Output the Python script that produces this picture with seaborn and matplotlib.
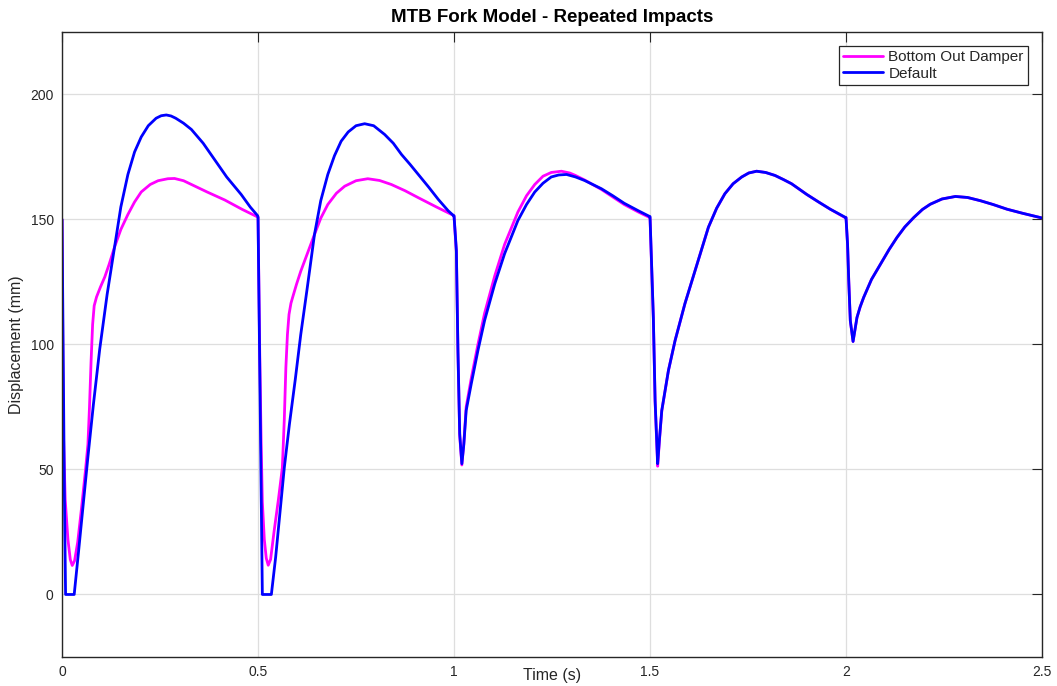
import matplotlib
matplotlib.use("Agg")

import numpy as np
import pandas as pd
import matplotlib.pyplot as plt
import seaborn as sns


# ----------------------------------------------------------------------------
# data (time in s, displacement in mm)
# ----------------------------------------------------------------------------

time_default = [
    0.000, 0.003, 0.006, 0.009, 0.031, 0.042, 0.054, 0.066, 0.080, 0.096,
    0.115, 0.134, 0.150, 0.168, 0.185, 0.202, 0.220, 0.240, 0.253, 0.266,
    0.278, 0.290, 0.310, 0.330, 0.360, 0.389, 0.420, 0.457, 0.480, 0.499,
    0.500, 0.504, 0.508, 0.511, 0.534, 0.545, 0.556, 0.567, 0.580, 0.595,
    0.609, 0.625, 0.644, 0.660, 0.678, 0.695, 0.712, 0.730, 0.750, 0.772,
    0.795, 0.823, 0.845, 0.866, 0.888, 0.909, 0.935, 0.960, 0.985, 0.999,
    1.000, 1.006, 1.010, 1.0145, 1.020, 1.025, 1.031, 1.044, 1.061, 1.078,
    1.104, 1.129, 1.163, 1.185, 1.206, 1.227, 1.248, 1.267, 1.287, 1.310,
    1.333, 1.376, 1.405, 1.434, 1.470, 1.499,
    1.500, 1.5085, 1.513, 1.5195, 1.524, 1.530, 1.547, 1.564, 1.589, 1.615,
    1.649, 1.670, 1.691, 1.712, 1.734, 1.752, 1.772, 1.795, 1.819, 1.840,
    1.861, 1.900, 1.930, 1.960, 1.999,
    2.000, 2.004, 2.007, 2.011, 2.018, 2.022, 2.028, 2.036, 2.045, 2.065,
    2.088, 2.110, 2.130, 2.150, 2.173, 2.195, 2.215, 2.245, 2.279, 2.310,
    2.343, 2.375, 2.411, 2.450, 2.500,
]
disp_default = [
    150.0, 95.0, 40.0, 0.0, 0.0, 17.0, 36.0, 55.0, 76.0, 98.0,
    120.0, 139.0, 155.0, 168.0, 177.0, 183.0, 187.5, 190.5, 191.5, 191.8,
    191.4, 190.5, 188.5, 186.0, 180.5, 174.0, 167.0, 160.0, 155.0, 151.5,
    150.8, 95.0, 40.0, 0.0, 0.0, 15.0, 33.0, 50.7, 68.0, 86.0,
    104.0, 122.0, 144.0, 157.5, 168.0, 175.5, 181.3, 185.0, 187.5, 188.3,
    187.5, 184.0, 180.5, 176.0, 172.0, 168.0, 163.0, 158.0, 153.5, 151.5,
    151.5, 137.6, 97.6, 64.3, 52.3, 60.0, 73.6, 84.3, 97.6, 109.6,
    124.3, 136.3, 149.6, 156.0, 161.0, 164.5, 167.0, 167.8, 168.0, 167.0,
    165.6, 162.3, 159.5, 156.5, 153.5, 151.2,
    151.2, 110.9, 77.6, 52.3, 62.0, 73.6, 89.6, 101.6, 116.3, 129.6,
    146.9, 154.5, 160.3, 164.3, 167.0, 168.6, 169.3, 168.8, 167.6, 166.0,
    164.3, 160.0, 157.0, 154.1, 150.8,
    150.8, 140.0, 125.5, 109.5, 101.2, 105.0, 110.8, 115.0, 118.8, 126.0,
    132.1, 138.0, 142.8, 147.0, 150.8, 154.0, 156.1, 158.2, 159.2, 158.8,
    157.5, 156.0, 154.1, 152.5, 150.6,
]

time_damper = [
    0.000, 0.003, 0.008, 0.015, 0.021, 0.026, 0.032, 0.040, 0.050, 0.060,
    0.066, 0.070, 0.074, 0.078, 0.082, 0.088, 0.098, 0.109, 0.120, 0.134,
    0.150, 0.168, 0.185, 0.202, 0.225, 0.245, 0.270, 0.287, 0.310, 0.330,
    0.370, 0.415, 0.460, 0.499,
    0.500, 0.504, 0.508, 0.511, 0.516, 0.521, 0.526, 0.532, 0.541, 0.552,
    0.562, 0.567, 0.571, 0.575, 0.579, 0.584, 0.588, 0.598, 0.609, 0.625,
    0.644, 0.660, 0.678, 0.700, 0.721, 0.750, 0.780, 0.810, 0.840, 0.875,
    0.909, 0.955, 0.999,
    1.000, 1.006, 1.010, 1.0145, 1.020, 1.025, 1.031, 1.044, 1.061, 1.078,
    1.104, 1.129, 1.163, 1.185, 1.206, 1.227, 1.248, 1.274, 1.295, 1.310,
    1.333, 1.376, 1.405, 1.434, 1.470, 1.499,
    1.500, 1.5085, 1.513, 1.5195, 1.524, 1.530, 1.547, 1.564, 1.589, 1.615,
    1.649, 1.670, 1.691, 1.712, 1.734, 1.752, 1.772, 1.795, 1.819, 1.840,
    1.861, 1.900, 1.930, 1.960, 1.999,
    2.000, 2.004, 2.007, 2.011, 2.018, 2.022, 2.028, 2.036, 2.045, 2.065,
    2.088, 2.110, 2.130, 2.150, 2.173, 2.195, 2.215, 2.245, 2.279, 2.310,
    2.343, 2.375, 2.411, 2.450, 2.500,
]
disp_damper = [
    150.0, 68.0, 38.0, 22.0, 14.0, 11.6, 13.5, 21.0, 35.0, 50.0,
    60.0, 75.0, 93.0, 108.0, 115.5, 119.0, 123.0, 127.0, 132.0, 139.0,
    146.0, 152.0, 157.0, 161.0, 164.0, 165.5, 166.3, 166.4, 165.5, 164.0,
    161.0, 157.8, 154.0, 151.0,
    151.0, 100.0, 60.0, 37.0, 22.0, 14.5, 11.7, 14.0, 25.3, 38.0,
    50.7, 70.0, 90.7, 104.0, 112.0, 116.5, 118.7, 124.0, 129.3, 136.0,
    144.0, 150.5, 156.0, 160.5, 163.3, 165.5, 166.3, 165.6, 164.0, 161.5,
    158.7, 155.0, 151.6,
    151.3, 137.0, 97.0, 63.5, 51.8, 60.5, 75.0, 86.5, 100.0, 112.5,
    127.5, 140.0, 153.0, 159.5, 164.0, 167.3, 168.8, 169.3, 168.6, 167.6,
    165.8, 162.0, 159.0, 156.0, 153.0, 150.8,
    150.8, 110.5, 77.0, 51.3, 61.5, 73.4, 89.6, 101.6, 116.3, 129.6,
    146.9, 154.5, 160.3, 164.3, 167.0, 168.6, 169.3, 168.8, 167.6, 166.0,
    164.3, 160.0, 157.0, 154.1, 150.6,
    150.8, 140.0, 125.5, 109.5, 101.2, 105.0, 110.8, 115.0, 118.8, 126.0,
    132.1, 138.0, 142.8, 147.0, 150.8, 154.0, 156.1, 158.2, 159.2, 158.8,
    157.5, 156.0, 154.1, 152.5, 150.6,
]

series_names = ["Bottom Out Damper", "Default"]
series_colors = ["#FF00FF", "#0000FF"]

x_ticks = [0, 0.5, 1, 1.5, 2, 2.5]
x_tick_labels = ["0", "0.5", "1", "1.5", "2", "2.5"]
y_ticks = [0, 50, 100, 150, 200]


# ----------------------------------------------------------------------------
# long table for seaborn
# ----------------------------------------------------------------------------

df = pd.concat([
    pd.DataFrame({"time": time_damper, "disp": disp_damper, "series": series_names[0]}),
    pd.DataFrame({"time": time_default, "disp": disp_default, "series": series_names[1]}),
], ignore_index=True)


# ----------------------------------------------------------------------------
# style
# ----------------------------------------------------------------------------

sns.set_theme(style="white")
plt.rcParams["font.family"] = ["Liberation Sans", "DejaVu Sans"]
plt.rcParams["axes.unicode_minus"] = False

fig = plt.figure(figsize=(10.57, 6.86), dpi=100)
ax = fig.add_axes([0.0587, 0.0423, 0.9271, 0.9111])

sns.lineplot(
    data=df,
    x="time",
    y="disp",
    hue="series",
    hue_order=series_names,
    palette=dict(zip(series_names, series_colors)),
    estimator=None,
    sort=False,
    linewidth=2.0,
    ax=ax,
)

ax.set_xlim(0, 2.5)
ax.set_ylim(-25, 225)
ax.set_xticks(x_ticks)
ax.set_xticklabels(x_tick_labels)
ax.set_yticks(y_ticks)

ax.grid(True, color="#dedede", linewidth=0.9)
ax.set_axisbelow(True)

for spine in ax.spines.values():
    spine.set_visible(True)
    spine.set_color("#262626")
    spine.set_linewidth(1.0)

ax.tick_params(direction="in", top=True, right=True, length=7, width=0.8,
               colors="#262626", labelsize=10, pad=6)

ax.set_title("MTB Fork Model - Repeated Impacts", fontsize=13.5,
             fontweight="bold", pad=7, color="#000000")
ax.set_xlabel("Time (s)", fontsize=11.5, color="#262626")
ax.set_ylabel("Displacement (mm)", fontsize=11.5, color="#262626")
ax.xaxis.set_label_coords(0.5, -0.017)
ax.yaxis.set_label_coords(-0.039, 0.5)

leg = ax.legend(
    loc="upper right",
    fancybox=False,
    frameon=True,
    edgecolor="#262626",
    framealpha=1,
    fontsize=11,
    handlelength=2.6,
    handletextpad=0.35,
    labelspacing=0.15,
    borderpad=0.3,
    borderaxespad=0.9,
    title=None,
)
leg.get_frame().set_linewidth(0.9)

fig.savefig("out.png", dpi=100)
